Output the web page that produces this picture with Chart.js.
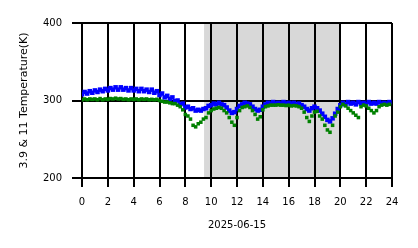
<!DOCTYPE html>
<html>
<head>
<meta charset="utf-8">
<script src="https://cdn.jsdelivr.net/npm/chart.js@4/dist/chart.umd.min.js"></script>
<style>
html,body{margin:0;padding:0;background:#fff;}
#wrap{width:418px;height:248px;}
</style>
</head>
<body>
<div id="wrap"><canvas id="c" width="418" height="248"></canvas></div>
<script>
const hours = [0,0.2,0.4,0.6,0.8,1,1.2,1.4,1.6,1.8,2,2.2,2.4,2.6,2.8,3,3.2,3.4,3.6,3.8,
4,4.2,4.4,4.6,4.8,5,5.2,5.4,5.6,5.8,6,6.2,6.4,6.6,6.8,7,7.2,7.4,7.6,7.8,
8,8.2,8.4,8.6,8.8,9,9.2,9.4,9.6,9.8,10,10.2,10.4,10.6,10.8,11,11.2,11.4,11.6,11.8,
12,12.2,12.4,12.6,12.8,13,13.2,13.4,13.6,13.8,14,14.2,14.4,14.6,14.8,15,15.2,15.4,15.6,15.8,
16,16.2,16.4,16.6,16.8,17,17.2,17.4,17.6,17.8,18,18.2,18.4,18.6,18.8,19,19.2,19.4,19.6,19.8,
20,20.2,20.4,20.6,20.8,21,21.2,21.4,21.6,21.8,22,22.2,22.4,22.6,22.8,23,23.2,23.4,23.6,23.8];

const temp39 = [308,311,309,312,310,313,311,314,312,315,
313,316,314,317,314,317,314,316,313,316,
313,315,312,315,312,314,311,314,310,312,
307,309,304,306,302,304,299,300,295,296,
291,292,289,290,287,288,287,289,290,293,
294,296,295,297,295,294,291,287,284,285,
289,293,295,297,296,295,292,289,287,288,
292,295,297,296,298,296,297,296,298,296,
297,296,297,295,296,294,292,289,287,290,
292,290,287,283,279,275,273,277,283,289,
294,297,295,298,296,297,295,298,296,297,
295,298,296,297,296,298,296,297,296,298];

const temp11 = [301,302,301,302,301.5,302,301,302.5,301,302,
301.5,302.5,302,303,302,302.5,301.5,302,301,302,
301.5,302,301,302,301.5,302,301,301.5,301,301.5,
300,299,298,298,297,296,296,294,292,288,
282,280,276,268,266,270,272,276,278,284,
287,289,290,291,290,287,284,278,272,268,
278,287,291,292,293,291,287,282,276,279,
288,292,293,294,294,294,294.5,294,294,293.5,
294,293,293.5,293,292,290,285,278,273,280,
285,286,280,276,268,262,259,268,280,285,
292,295,293,290,287,284,281,278,292,294,
293,290,287,284,287,292,294,295,294,295];

const xTicks = [0,2,4,6,8,10,12,14,16,18,20,22,24];
const yTicks = [200,300,400];
const shadeStart = 9.45;
const shadeEnd = 20;
const dateLabel = '2025-06-15';
const yLabel = '3.9 & 11 Temperature(K)';

const shadePlugin = {
  id: 'shade',
  beforeDraw(chart) {
    const {ctx, chartArea, scales} = chart;
    const x0 = scales.x.getPixelForValue(shadeStart);
    const x1 = scales.x.getPixelForValue(shadeEnd);
    ctx.save();
    ctx.fillStyle = '#d8d8d8';
    ctx.fillRect(x0, chartArea.top, x1 - x0, chartArea.bottom - chartArea.top);
    ctx.restore();
  }
};

const font = {family: 'DejaVu Sans', size: 10};

new Chart(document.getElementById('c'), {
  type: 'scatter',
  data: {
    datasets: [
      {
        label: '11',
        data: hours.map((h, i) => ({x: h, y: temp11[i]})),
        backgroundColor: '#008000',
        borderWidth: 0,
        pointStyle: 'rect',
        pointRadius: 2.5
      },
      {
        label: '3.9',
        data: hours.map((h, i) => ({x: h, y: temp39[i]})),
        backgroundColor: '#0000ff',
        borderWidth: 0,
        pointStyle: 'rect',
        pointRadius: 3.2
      }
    ]
  },
  options: {
    responsive: false,
    animation: false,
    events: [],
    layout: {padding: {top: 23, right: 26, left: 0, bottom: 0}},
    plugins: {legend: {display: false}, tooltip: {enabled: false}},
    scales: {
      x: {
        type: 'linear', min: 0, max: 24,
        afterBuildTicks(s) { s.ticks = xTicks.map(v => ({value: v})); },
        afterFit(s) { s.height = 70; },
        grid: {color: '#000', lineWidth: 2, tickLength: 9, drawTicks: true},
        border: {display: true, color: '#000', width: 2},
        ticks: {color: '#000', font: font, padding: 9, maxRotation: 0},
        title: {display: true, text: dateLabel, color: '#000', font: {family: 'DejaVu Sans', size: 10}, padding: {top: 0, bottom: 17}}
      },
      y: {
        type: 'linear', min: 200, max: 400,
        afterBuildTicks(s) { s.ticks = yTicks.map(v => ({value: v})); },
        afterFit(s) { s.width = 82; },
        grid: {color: '#000', lineWidth: 2, tickLength: 10, drawTicks: true},
        border: {display: true, color: '#000', width: 2},
        ticks: {color: '#000', font: font, padding: 10},
        title: {display: true, text: yLabel, color: '#000', font: {family: 'DejaVu Sans', size: 11}, padding: {top: 18, bottom: 0}}
      }
    }
  },
  plugins: [shadePlugin]
});
</script>
</body>
</html>
